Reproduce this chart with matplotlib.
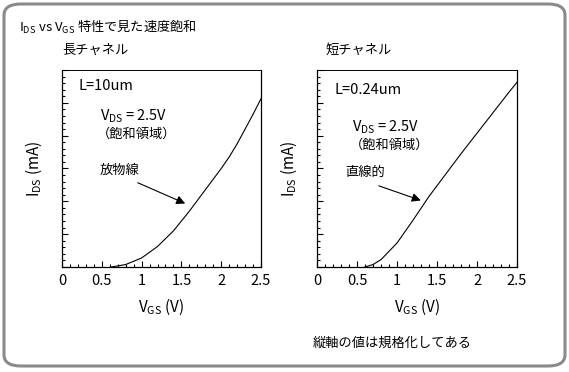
import matplotlib
matplotlib.use("Agg")
import matplotlib.pyplot as plt
from matplotlib.patches import FancyBboxPatch
from matplotlib.ticker import MultipleLocator, NullFormatter

plt.rcParams['font.family'] = ['Noto Sans CJK JP', 'DejaVu Sans']
plt.rcParams['mathtext.fontset'] = 'custom'
plt.rcParams['mathtext.rm'] = 'Noto Sans CJK JP'

# --- data (normalized current) ---
vgs_long = [0.62, 0.8, 1.0, 1.2, 1.4, 1.6, 1.8, 2.0, 2.1, 2.2, 2.3, 2.4, 2.5]
ids_long = [0.0, 0.015, 0.055, 0.125, 0.22, 0.34, 0.47, 0.60, 0.67, 0.75, 0.84, 0.93, 1.025]

vgs_short = [0.6, 0.7, 0.8, 1.0, 1.2, 1.4, 1.6, 1.8, 2.0, 2.2, 2.4, 2.5]
ids_short = [0.0, 0.015, 0.045, 0.146, 0.285, 0.43, 0.56, 0.69, 0.815, 0.94, 1.065, 1.125]

xticks = [0, 0.5, 1, 1.5, 2, 2.5]
xticklabels = ['0', '0.5', '1', '1.5', '2', '2.5']

# arrow (tail, tip) in data coords
arrow_long = ((0.92, 0.52), (1.58, 0.38))
arrow_short = ((0.74, 0.50), (1.33, 0.40))

W, H = 569, 372
fig = plt.figure(figsize=(W / 100, H / 100), dpi=100)


def px(x, y):
    return x / W, 1 - y / H


# rounded gray frame
frame = FancyBboxPatch(px(4, 366), 561 / W, 362 / H,
                       boxstyle="round,pad=0,rounding_size=0.03",
                       transform=fig.transFigure, facecolor='none',
                       edgecolor='#8a8a8a', linewidth=2.2, zorder=-1)
fig.patches.append(frame)


def setup(ax):
    ax.set_xlim(0, 2.5)
    ax.set_ylim(0, 1.2)
    ax.set_xticks(xticks)
    ax.set_xticklabels(xticklabels, fontsize=10.5)
    ax.xaxis.set_minor_locator(MultipleLocator(0.1))
    ax.yaxis.set_major_locator(MultipleLocator(0.2))
    ax.yaxis.set_minor_locator(MultipleLocator(0.04))
    ax.yaxis.set_major_formatter(NullFormatter())
    ax.tick_params(which='both', direction='in', top=False, right=False,
                   width=0.8, colors='black')
    ax.tick_params(which='major', length=4.5, pad=5)
    ax.tick_params(which='minor', length=2.2)
    for s in ax.spines.values():
        s.set_linewidth(0.9)
    ax.spines['top'].set_linestyle((0, (1, 1)))
    ax.spines['top'].set_linewidth(0.7)
    ax.set_xlabel(r'$\mathregular{V_{GS}}$ (V)', fontsize=11, labelpad=6)
    ax.set_ylabel(r'$\mathregular{I_{DS}}$ (mA)', fontsize=11, labelpad=8)


ax1 = fig.add_axes([62 / W, 1 - 267 / H, 199 / W, 197 / H])
ax2 = fig.add_axes([317 / W, 1 - 267 / H, 200 / W, 197 / H])
for ax in (ax1, ax2):
    setup(ax)

ax1.plot(vgs_long, ids_long, color='black', lw=0.8)
ax2.plot(vgs_short, ids_short, color='black', lw=0.8)

aprops = dict(arrowstyle='-|>', color='black', lw=0.8, mutation_scale=13)
ax1.annotate('', xy=arrow_long[1], xytext=arrow_long[0], arrowprops=aprops)
ax2.annotate('', xy=arrow_short[1], xytext=arrow_short[0], arrowprops=aprops)

# texts
fs = 9.5
fig.text(*px(19, 27), r'$\mathregular{I_{DS}}$ vs $\mathregular{V_{GS}}$ 特性で見た速度飽和',
         fontsize=fs, va='center', ha='left')
fig.text(*px(62, 50), '長チャネル', fontsize=fs, va='center')
fig.text(*px(326, 50), '短チャネル', fontsize=fs, va='center')

fig.text(*px(79, 86), 'L=10um', fontsize=10.5, va='center')
fig.text(*px(100, 116), r'$\mathregular{V_{DS}}$ = 2.5V', fontsize=10.5, va='center')
fig.text(*px(97, 134), '（飽和領域）', fontsize=fs, va='center')
fig.text(*px(100, 170), '放物線', fontsize=fs, va='center')

fig.text(*px(334, 90), 'L=0.24um', fontsize=10.5, va='center')
fig.text(*px(352, 127), r'$\mathregular{V_{DS}}$ = 2.5V', fontsize=10.5, va='center')
fig.text(*px(350, 145), '（飽和領域）', fontsize=fs, va='center')
fig.text(*px(345, 172), '直線的', fontsize=fs, va='center')

fig.text(*px(313, 343), '縦軸の値は規格化してある', fontsize=fs, va='center')

fig.savefig('out.png', dpi=100)
